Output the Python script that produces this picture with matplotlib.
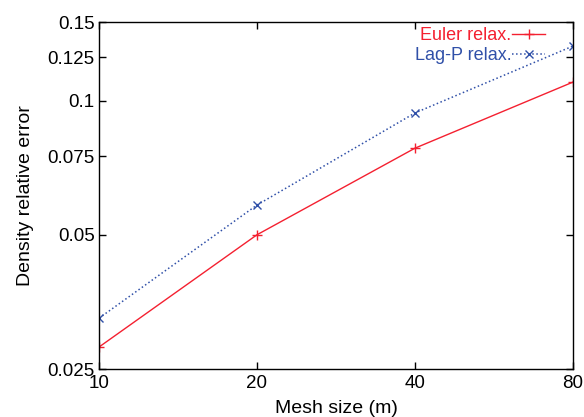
import numpy as np
import matplotlib.pyplot as plt
from matplotlib.ticker import FixedLocator, FixedFormatter, NullLocator

plt.rcParams['font.family'] = ['Liberation Sans', 'DejaVu Sans']

mesh = [10, 20, 40, 80]
euler = [0.0280, 0.0500, 0.0782, 0.110]
lagp = [0.0325, 0.0583, 0.0938, 0.1325]

yticks = [0.025, 0.05, 0.075, 0.1, 0.125, 0.15]
ylabels = ['0.025', '0.05', '0.075', '0.1', '0.125', '0.15']

fig = plt.figure(figsize=(5.84, 4.17), dpi=100)
ax = fig.add_axes([0.1695, 0.1151, 0.8115, 0.832])

ax.plot(mesh, euler, '-', color='#f42030', lw=1, marker='+', ms=7, mew=1, label='Euler relax.')
ax.plot(mesh, lagp, ':', color='#3050a8', lw=1.1, marker='x', ms=6, mew=1, label='Lag-P relax.')

ax.set_xscale('log')
ax.set_yscale('log')
ax.set_xlim(10, 80)
ax.set_ylim(0.025, 0.15)
ax.xaxis.set_major_locator(FixedLocator(mesh))
ax.xaxis.set_major_formatter(FixedFormatter([str(m) for m in mesh]))
ax.xaxis.set_minor_locator(NullLocator())
ax.yaxis.set_major_locator(FixedLocator(yticks))
ax.yaxis.set_major_formatter(FixedFormatter(ylabels))
ax.yaxis.set_minor_locator(NullLocator())
ax.tick_params(direction='in', top=True, right=True, labelsize=13.5, length=5, width=1)
ax.tick_params(axis='x', pad=4)
ax.tick_params(axis='y', pad=3)
for s in ax.spines.values():
    s.set_linewidth(1)

ax.set_xlabel('Mesh size (m)', fontsize=14, labelpad=6)
ax.set_ylabel('Density relative error', fontsize=14, labelpad=10)

leg = ax.legend(loc='upper right', frameon=False, markerfirst=False, fontsize=13,
                handlelength=1.8, borderaxespad=0, borderpad=0, labelspacing=0.15,
                handletextpad=0.05, bbox_to_anchor=(0.941, 0.985))
for t, l in zip(leg.get_texts(), leg.get_lines()):
    t.set_color(l.get_color())

fig.savefig('out.png', dpi=100)
